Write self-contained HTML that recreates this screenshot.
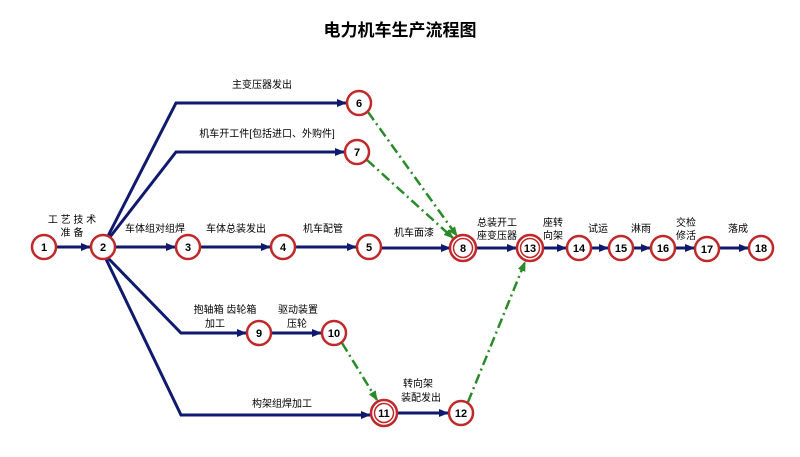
<!DOCTYPE html>
<html><head><meta charset="utf-8"><style>
body{margin:0;background:#fff}
svg text{font-family:"Liberation Sans","Noto Sans CJK SC",sans-serif;fill:#000}
</style></head><body>
<svg width="800" height="452" viewBox="0 0 800 452" xmlns="http://www.w3.org/2000/svg">
<defs>
<marker id="a" markerWidth="10" markerHeight="8" refX="9" refY="4" orient="auto" markerUnits="userSpaceOnUse"><path d="M0,0L10,4L0,8z" fill="#0f1a6e"/></marker>
<marker id="g" markerWidth="10" markerHeight="8" refX="9" refY="4" orient="auto" markerUnits="userSpaceOnUse"><path d="M0,0L10,4L0,8z" fill="#2a8a2a"/></marker>
</defs>
<text x="400" y="36" font-size="17" font-weight="bold" text-anchor="middle">电力机车生产流程图</text>
<g stroke="#0f1a6e" stroke-width="3" fill="none">
<path d="M56,247H90" marker-end="url(#a)"/>
<path d="M115,247H175" marker-end="url(#a)"/>
<path d="M200,247H270" marker-end="url(#a)"/>
<path d="M295,247H356" marker-end="url(#a)"/>
<path d="M381,248H450" marker-end="url(#a)"/>
<path d="M476,248H516" marker-end="url(#a)"/>
<path d="M544,248H566" marker-end="url(#a)"/>
<path d="M591,248H608" marker-end="url(#a)"/>
<path d="M633,248H650" marker-end="url(#a)"/>
<path d="M675,248H694" marker-end="url(#a)"/>
<path d="M719,248H748" marker-end="url(#a)"/>
<path d="M108,236L176,103H346" marker-end="url(#a)"/>
<path d="M110,237L176,152H344" marker-end="url(#a)"/>
<path d="M108,258L181,333H246" marker-end="url(#a)"/>
<path d="M271,333H321" marker-end="url(#a)"/>
<path d="M106,259L181,415H370" marker-end="url(#a)"/>
<path d="M398,413H448" marker-end="url(#a)"/>
</g>
<g stroke="#2a8a2a" stroke-width="2.5" fill="none" stroke-dasharray="10,4,2,4">
<path d="M368,112L457,236" marker-end="url(#g)"/>
<path d="M367,160L453,238" marker-end="url(#g)"/>
<path d="M342,343L377,400" marker-end="url(#g)"/>
<path d="M468,402L525,262" marker-end="url(#g)"/>
</g>
<g fill="#fff" stroke="#c0282a" stroke-width="2.5">
<circle cx="44" cy="247" r="12"/><circle cx="103" cy="247" r="12"/><circle cx="188" cy="247" r="12"/>
<circle cx="283" cy="247" r="12"/><circle cx="369" cy="247" r="12"/>
<circle cx="463" cy="248" r="13"/><circle cx="463" cy="248" r="9.5" stroke-width="1.5"/>
<circle cx="530" cy="248" r="13"/><circle cx="530" cy="248" r="9.5" stroke-width="1.5"/>
<circle cx="579" cy="248" r="12"/><circle cx="621" cy="248" r="12"/><circle cx="663" cy="248" r="12"/>
<circle cx="707" cy="249" r="12"/><circle cx="761" cy="248" r="12"/>
<circle cx="359" cy="103" r="12"/><circle cx="357" cy="152" r="12"/>
<circle cx="259" cy="333" r="12"/><circle cx="334" cy="333" r="12"/>
<circle cx="384" cy="413" r="13"/><circle cx="384" cy="413" r="9.5" stroke-width="1.5"/>
<circle cx="461" cy="413" r="12"/>
</g>
<g font-size="11" font-weight="bold" text-anchor="middle">
<text x="44" y="251">1</text><text x="103" y="251">2</text><text x="188" y="251">3</text>
<text x="283" y="251">4</text><text x="369" y="251">5</text><text x="463" y="252">8</text>
<text x="530" y="252">13</text><text x="579" y="252">14</text><text x="621" y="252">15</text>
<text x="663" y="252">16</text><text x="707" y="253">17</text><text x="761" y="252">18</text>
<text x="359" y="107">6</text><text x="357" y="156">7</text><text x="259" y="337">9</text>
<text x="334" y="337">10</text><text x="384" y="417">11</text><text x="461" y="417">12</text>
</g>
<g font-size="10" text-anchor="middle">
<text x="72" y="223">工 艺 技 术</text><text x="72" y="236">准   备</text>
<text x="155" y="232">车体组对组焊</text>
<text x="236" y="232">车体总装发出</text>
<text x="323" y="232">机车配管</text>
<text x="414" y="236">机车面漆</text>
<text x="497" y="226">总装开工</text><text x="497" y="239">座变压器</text>
<text x="553" y="226">座转</text><text x="553" y="239">向架</text>
<text x="598" y="232">试运</text>
<text x="641" y="232">淋雨</text>
<text x="686" y="226">交检</text><text x="686" y="239">修活</text>
<text x="738" y="232">落成</text>
<text x="262" y="88">主变压器发出</text>
<text x="267" y="137">机车开工件[包括进口、外购件]</text>
<text x="225" y="313">抱轴箱 齿轮箱</text><text x="215" y="327">加工</text>
<text x="298" y="313">驱动装置</text><text x="297" y="327">压轮</text>
<text x="282" y="407">构架组焊加工</text>
<text x="418" y="387">转向架</text><text x="421" y="401">装配发出</text>
</g>
</svg>
</body></html>
